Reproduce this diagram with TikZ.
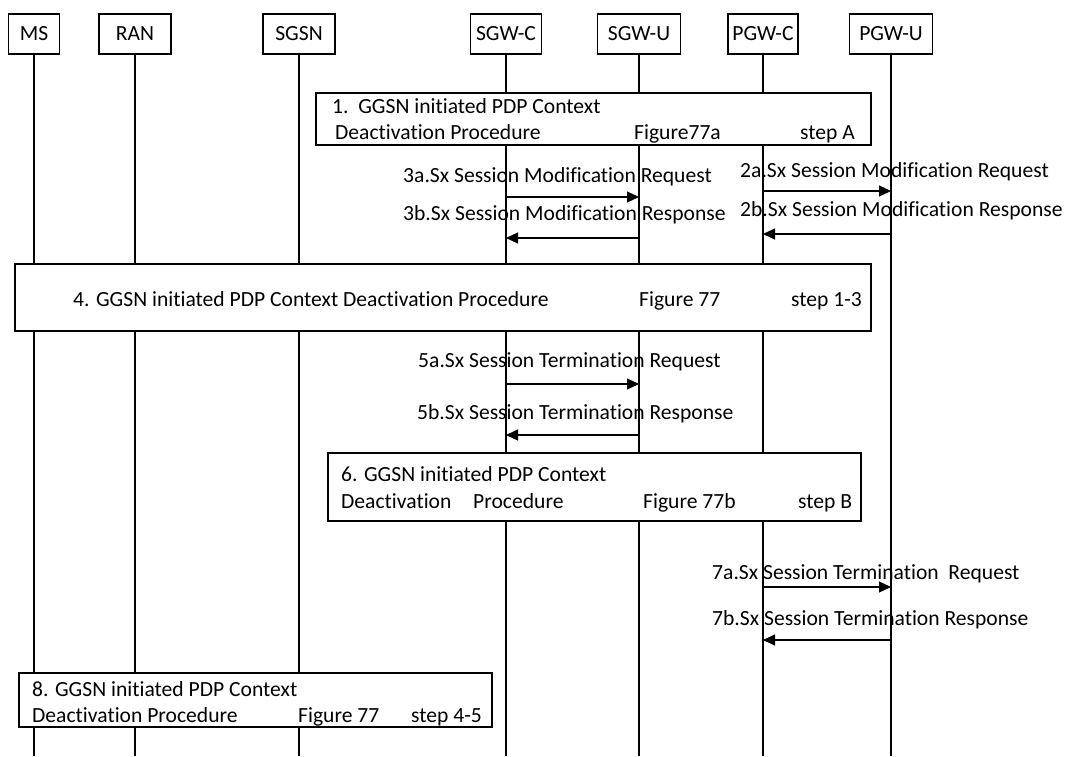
\documentclass[tikz,border=0pt]{standalone}
\usepackage{fontspec}
\setmainfont[Ligatures=NoCommon]{Carlito}
\usetikzlibrary{arrows.meta}
\begin{document}
\begin{tikzpicture}[x=1pt,y=-1pt,
  every node/.style={font=\fontsize{21.6}{26}\selectfont},
  actor/.style={draw,line width=1.1pt,fill=white,minimum height=40pt,inner sep=0pt},
  life/.style={line width=1.1pt},
  procbox/.style={draw,line width=1.1pt,fill=white},
  lbl/.style={anchor=base west,inner sep=0pt},
  msg/.style={line width=1.1pt,-{Triangle[length=12pt,width=11pt]}}]
\useasboundingbox (0,0) rectangle (1066,756);
% header boxes
\node[actor,minimum width=51pt] (ms) at (34,34) {MS};
\node[actor,minimum width=72pt] (ran) at (135,34) {RAN};
\node[actor,minimum width=72pt] (sgsn) at (299,34) {SGSN};
\node[actor,minimum width=71pt] (sgwc) at (506,34) {SGW-C};
\node[actor,minimum width=83pt] (sgwu) at (639,34) {SGW-U};
\node[actor,minimum width=70pt] (pgwc) at (763,34) {PGW-C};
\node[actor,minimum width=83pt] (pgwu) at (891,34) {PGW-U};
% lifeline ends
\foreach \n in {ms,ran,sgsn,sgwc,sgwu,pgwc,pgwu}{
  \coordinate (\n end) at (\n |- 0,756);
  \draw[life] (\n.south) -- (\n end);
}
% box 1
\node[procbox,minimum width=555pt,minimum height=52pt,inner sep=0pt] (b1) at (593.5,119) {};
\node[lbl] (b1a) at (332,113) {1.\ \ GGSN initiated PDP Context};
\node[lbl] (b1b) at (335,139) {Deactivation Procedure};
\node[lbl] (b1c) at (634,139) {Figure77a};
\node[lbl] (b1d) at (800,139) {step A};
% messages 3a/3b
\node[lbl] (t3a) at (403,182) {3a.Sx Session Modification Request};
\draw[msg] (sgwc |- 0,197) -- (sgwu |- 0,197);
\node[lbl] (t3b) at (403,220) {3b.Sx Session Modification Response};
\draw[msg] (sgwu |- 0,238) -- (sgwc |- 0,238);
% messages 2a/2b
\node[lbl] (t2a) at (740,177) {2a.Sx Session Modification Request};
\draw[msg] (pgwc |- 0,191) -- (pgwu |- 0,191);
\node[lbl] (t2b) at (740,216) {2b.Sx Session Modification Response};
\draw[msg] (pgwu |- 0,234) -- (pgwc |- 0,234);
% box 4
\node[procbox,minimum width=856pt,minimum height=67pt,inner sep=0pt] (b4) at (443,297.5) {};
\node[lbl] (b4a) at (73,306) {4. GGSN initiated PDP Context Deactivation Procedure};
\node[lbl] (b4b) at (639,306) {Figure 77};
\node[lbl] (b4c) at (791,306) {step 1-3};
% messages 5a/5b
\node[lbl] (t5a) at (418,367) {5a.Sx Session Termination Request};
\draw[msg] (sgwc |- 0,384) -- (sgwu |- 0,384);
\node[lbl] (t5b) at (417,419) {5b.Sx Session Termination Response};
\draw[msg] (sgwu |- 0,435) -- (sgwc |- 0,435);
% box 6
\node[procbox,minimum width=533pt,minimum height=68pt,inner sep=0pt] (b6) at (594.5,487) {};
\node[lbl] (b6a) at (341,481) {6. GGSN initiated PDP Context};
\node[lbl] (b6b) at (341,508) {Deactivation};
\node[lbl] (b6c) at (473,508) {Procedure};
\node[lbl] (b6d) at (643,508) {Figure 77b};
\node[lbl] (b6e) at (798,508) {step B};
% messages 7a/7b
\node[lbl] (t7a) at (712,579) {7a.Sx Session Termination\ \ Request};
\draw[msg] (pgwc |- 0,587) -- (pgwu |- 0,587);
\node[lbl] (t7b) at (712,625) {7b.Sx Session Termination Response};
\draw[msg] (pgwu |- 0,640) -- (pgwc |- 0,640);
% box 8
\node[procbox,minimum width=473pt,minimum height=54pt,inner sep=0pt] (b8) at (255.5,700) {};
\node[lbl] (b8a) at (32,696) {8. GGSN initiated PDP Context};
\node[lbl] (b8b) at (32,722) {Deactivation Procedure};
\node[lbl] (b8c) at (298,722) {Figure 77};
\node[lbl] (b8d) at (411,722) {step 4-5};
\end{tikzpicture}
\end{document}
